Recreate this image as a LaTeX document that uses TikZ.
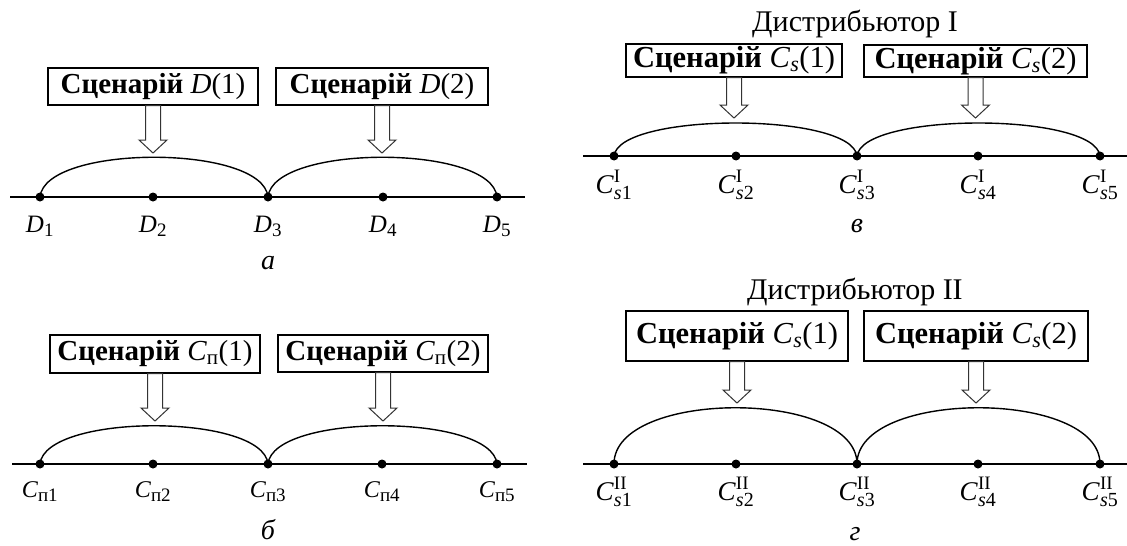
\documentclass[tikz,border=0pt]{standalone}
\usepackage{fontspec}
\setmainfont{Liberation Serif}
\usetikzlibrary{calc}
\tikzset{
  box/.style={draw, line width=1.3pt, inner sep=0pt, font=\fontsize{29}{32}\selectfont},
  boxr/.style={box, font=\fontsize{30.5}{33}\selectfont},
  dot/.style={circle, fill, inner sep=0pt, minimum size=9pt},
  lab/.style={font=\fontsize{25}{28}\selectfont},
  labp/.style={font=\fontsize{24}{28}\selectfont},
  labr/.style={font=\fontsize{27}{30}\selectfont},
  capt/.style={font=\fontsize{28}{30}\selectfont\itshape},
  ttl/.style={font=\fontsize{30}{32}\selectfont},
  axisline/.style={line width=1.6pt},
  arcline/.style={line width=1.4pt},
  hollow/.style={draw=black!80, fill=white, line width=1pt, line join=miter,
    to path={let \p1=(\tikztostart), \p2=(\tikztotarget) in
      (\x1-7.5pt,\y1) -- (\x1-7.5pt,\y2+13pt) -- (\x1-14pt,\y2+13pt) -- (\x1,\y2)
      -- (\x1+14pt,\y2+13pt) -- (\x1+7.5pt,\y2+13pt) -- (\x1+7.5pt,\y1) -- cycle}},
}
\newcommand{\Scen}{\textbf{Сценарій}}
\newcommand{\tx}[2]{\mbox{\fontsize{#1}{#1}\selectfont #2}}
\newcommand{\Sb}[3]{$\mbox{\textit{#1}}_{\tx{#3}{#2}}$}
\newcommand{\SbSp}[3]{$\mbox{\textit{C}}^{\tx{19}{#2}}_{\tx{20}{\textit{s}#1}}$}
\begin{document}
\begin{tikzpicture}[x=1pt,y=-1pt]
\useasboundingbox (0,0) rectangle (1127,546);
% ---------------- panel a ----------------
\coordinate (aL) at (10,197); \coordinate (aR) at (525,197);
\draw[axisline] (aL) -- (aR);
\foreach \i/\x in {1/40,2/153,3/268,4/383,5/497} {
  \node[dot] (a\i) at (\x,197) {};
  \node[lab] (al\i) at (\x,226) {\Sb{D}{\i}{19}};
}
\draw[arcline] (a1.center) .. controls +(5,-53) and +(-5,-53) .. (a3.center);
\draw[arcline] (a3.center) .. controls +(5,-53) and +(-5,-53) .. (a5.center);
\node[box, minimum width=210pt, minimum height=37pt] (ab1) at (153,86.5) {\Scen\ \textit{D}(1)};
\node[box, minimum width=212pt, minimum height=37pt] (ab2) at (382,86.5) {\Scen\ \textit{D}(2)};
\coordinate (at1) at (153,153); \coordinate (at2) at (382,153);
\path[hollow] (ab1.south) to (at1);
\path[hollow] (ab2.south) to (at2);
\node[capt] (acap) at (268,263) {а};
% ---------------- panel b ----------------
\coordinate (bL) at (12,464); \coordinate (bR) at (527,464);
\draw[axisline] (bL) -- (bR);
\foreach \i/\x in {1/40,2/153,3/268,4/382,5/497} {
  \node[dot] (b\i) at (\x,464) {};
  \node[labp] (bl\i) at (\x,492) {\Sb{C}{п\i}{19}};
}
\draw[arcline] (b1.center) .. controls +(5,-51) and +(-5,-51) .. (b3.center);
\draw[arcline] (b3.center) .. controls +(5,-51) and +(-5,-51) .. (b5.center);
\node[box, minimum width=210pt, minimum height=38pt] (bb1) at (155,354) {\Scen\ \Sb{C}{п}{21}(1)};
\node[box, minimum width=210pt, minimum height=37pt] (bb2) at (383,353.5) {\Scen\ \Sb{C}{п}{21}(2)};
\coordinate (bt1) at (155,421); \coordinate (bt2) at (383,421);
\path[hollow] (bb1.south) to (bt1);
\path[hollow] (bb2.south) to (bt2);
\node[capt] (bcap) at (268,530) {б};
% ---------------- panel v ----------------
\node[ttl] (vt) at (855,24) {Дистрибьютор I};
\coordinate (vL) at (583,156); \coordinate (vR) at (1127,156);
\draw[axisline] (vL) -- (vR);
\foreach \i/\x in {1/614,2/736,3/857,4/978,5/1100} {
  \node[dot] (v\i) at (\x,156) {};
  \node[labr] (vl\i) at (\x,185) {\SbSp{\i}{I}{}};
}
\draw[arcline] (v1.center) .. controls +(5,-44) and +(-5,-44) .. (v3.center);
\draw[arcline] (v3.center) .. controls +(5,-44) and +(-5,-44) .. (v5.center);
\node[boxr, minimum width=216pt, minimum height=33pt] (vb1) at (734,60.5) {\Scen\ \Sb{C}{\textit{s}}{22}(1)};
\node[boxr, minimum width=223pt, minimum height=32pt] (vb2) at (975.5,61) {\Scen\ \Sb{C}{\textit{s}}{22}(2)};
\coordinate (vt1) at (734,118); \coordinate (vt2) at (975.5,118);
\path[hollow] (vb1.south) to (vt1);
\path[hollow] (vb2.south) to (vt2);
\node[capt] (vcap) at (857,226) {в};
% ---------------- panel g ----------------
\node[ttl] (gt) at (855,292) {Дистрибьютор II};
\coordinate (gL) at (583,464); \coordinate (gR) at (1127,464);
\draw[axisline] (gL) -- (gR);
\foreach \i/\x in {1/614,2/736,3/857,4/978,5/1100} {
  \node[dot] (g\i) at (\x,464) {};
  \node[labr] (gl\i) at (\x,492) {\SbSp{\i}{II}{}};
}
\draw[arcline] (g1.center) .. controls +(0,-75) and +(0,-75) .. (g3.center);
\draw[arcline] (g3.center) .. controls +(0,-75) and +(0,-75) .. (g5.center);
\node[boxr, minimum width=222pt, minimum height=50pt] (gb1) at (737,336) {\Scen\ \Sb{C}{\textit{s}}{22}(1)};
\node[boxr, minimum width=224pt, minimum height=50pt] (gb2) at (976,336) {\Scen\ \Sb{C}{\textit{s}}{22}(2)};
\coordinate (gt1) at (737,403); \coordinate (gt2) at (976,403);
\path[hollow] (gb1.south) to (gt1);
\path[hollow] (gb2.south) to (gt2);
\node[capt] (gcap) at (855,534) {г};
\end{tikzpicture}
\end{document}
